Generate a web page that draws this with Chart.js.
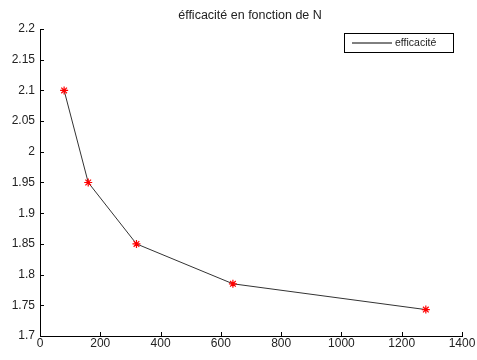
<!DOCTYPE html>
<html>
<head>
<meta charset="utf-8">
<script src="https://cdn.jsdelivr.net/npm/chart.js@4"></script>
<style>
  html, body { margin: 0; padding: 0; background: #fff; }
  #wrap { width: 477px; height: 360px; }
</style>
</head>
<body>
<div id="wrap"><canvas id="effChart" width="477" height="360"></canvas></div>
<script>
// values
const nValues = [80, 160, 320, 640, 1280];
const efficacite = [2.1, 1.95, 1.85, 1.785, 1.743];
const seriesLabel = 'efficacité';
const chartTitle = 'éfficacité en fonction de N';

const FONT = '"Liberation Sans", Arial, sans-serif';

// inward tick marks, title and boxed legend like the original figure
const matlabLook = {
    id: 'matlabLook',
    afterDraw(chart) {
        const ctx = chart.ctx;
        const area = chart.chartArea;
        const xs = chart.scales.x, ys = chart.scales.y;
        ctx.save();
        ctx.strokeStyle = '#000';
        ctx.lineWidth = 1;
        ctx.beginPath();
        xs.ticks.forEach(t => {
            const px = Math.round(xs.getPixelForValue(t.value)) + 0.5;
            ctx.moveTo(px, area.bottom);
            ctx.lineTo(px, area.bottom - 4);
        });
        ys.ticks.forEach(t => {
            const py = Math.round(ys.getPixelForValue(t.value)) + 0.5;
            ctx.moveTo(area.left, py);
            ctx.lineTo(area.left + 4, py);
        });
        ctx.stroke();

        // title
        ctx.fillStyle = '#222';
        ctx.font = '12.5px ' + FONT;
        ctx.textAlign = 'center';
        ctx.textBaseline = 'middle';
        ctx.fillText(chartTitle, 250, 16);

        // legend
        const bx = 344.5, by = 33.5, bw = 109, bh = 19;
        ctx.fillStyle = '#fff';
        ctx.fillRect(bx, by, bw, bh);
        ctx.strokeRect(bx, by, bw, bh);
        ctx.beginPath();
        ctx.moveTo(352, by + bh / 2);
        ctx.lineTo(392, by + bh / 2);
        ctx.stroke();
        ctx.fillStyle = '#222';
        ctx.font = '10.5px ' + FONT;
        ctx.textAlign = 'left';
        ctx.fillText(seriesLabel, 395, by + bh / 2 + 0.5);
        ctx.restore();
    }
};

const config = {
    type: 'line',
    data: {
        labels: nValues,
        datasets: [{
            label: seriesLabel,
            data: nValues.map((n, i) => ({ x: n, y: efficacite[i] })),
            borderColor: '#333',
            borderWidth: 1,
            pointStyle: 'star',
            pointRadius: 4,
            pointBorderColor: '#ff0000',
            pointBorderWidth: 1.2,
            pointBackgroundColor: '#ff0000',
            tension: 0
        }]
    },
    options: {
        responsive: false,
        animation: false,
        layout: { padding: { top: 29, right: 15, left: 0, bottom: 0 } },
        plugins: {
            legend: { display: false },
            title: { display: false },
            tooltip: { enabled: false }
        },
        scales: {
            x: {
                type: 'linear',
                min: 0,
                max: 1400,
                ticks: {
                    stepSize: 200,
                    color: '#222',
                    font: { family: FONT, size: 12 },
                    padding: 0,
                    maxRotation: 0,
                    callback: v => String(v)
                },
                grid: { display: false, drawTicks: false },
                border: { display: true, color: '#000', width: 1 },
                afterFit(scale) { scale.height = 24; }
            },
            y: {
                min: 1.7,
                max: 2.2,
                ticks: {
                    stepSize: 0.05,
                    color: '#222',
                    font: { family: FONT, size: 12 },
                    padding: 5,
                    callback: v => String(parseFloat(Number(v).toFixed(2)))
                },
                grid: { display: false, drawTicks: false },
                border: { display: true, color: '#000', width: 1 },
                afterFit(scale) { scale.width = 40; }
            }
        }
    },
    plugins: [matlabLook]
};

window.onload = function() {
    const ctx = document.getElementById('effChart').getContext('2d');
    new Chart(ctx, config);
};
</script>
</body>
</html>
